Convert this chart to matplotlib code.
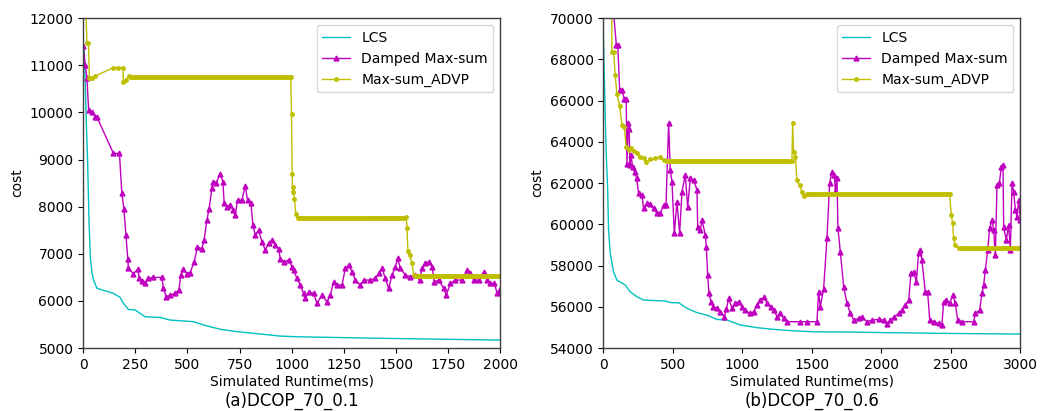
import numpy as np
import matplotlib
matplotlib.use("Agg")
import matplotlib.pyplot as plt

# ===========================================================================
# data
# ===========================================================================

# (a) DCOP_70_0.1
lcs_a_x = [0, 5, 10, 15, 21, 28, 34, 42, 50, 66, 145, 177, 193, 217, 249, 297, 369, 417,
           530, 577, 657, 737, 849, 945, 1033, 1473, 2000]
lcs_a_y = [11500, 11350, 10600, 9800, 8990, 7700, 6940, 6600, 6440, 6270, 6160, 6075, 5950,
           5820, 5810, 5665, 5650, 5595, 5560, 5490, 5400, 5350, 5300, 5255, 5240, 5205, 5170]

dm_a_x = [0, 10, 18, 26, 42, 58, 66, 145, 174, 185, 195, 205, 214, 217, 241, 261, 270, 281,
          297, 313, 337, 377, 385, 398, 417, 441, 459, 468, 481, 497, 513, 532, 548, 569,
          580, 593, 604, 617, 622, 638, 657, 670, 676, 689, 705, 718, 729, 740, 761, 777,
          788, 804, 814, 825, 841, 857, 873, 889, 905, 921, 937, 945, 964, 985, 1001, 1009,
          1025, 1041, 1057, 1065, 1081, 1105, 1121, 1145, 1169, 1185, 1201, 1217, 1241,
          1257, 1273, 1289, 1305, 1329, 1345, 1377, 1401, 1417, 1433, 1449, 1465, 1481,
          1497, 1508, 1521, 1545, 1569, 1593, 1613, 1625, 1641, 1657, 1673, 1684, 1705,
          1729, 1741, 1761, 1785, 1817, 1841, 1857, 1873, 1897, 1921, 1937, 1953, 1972,
          1985, 1993, 2000]
dm_a_y = [11400, 11000, 10735, 10050, 10010, 9910, 9900, 9130, 9130, 8300, 7960, 7400, 6880,
          6690, 6580, 6670, 6480, 6430, 6390, 6480, 6500, 6500, 6270, 6090, 6120, 6170, 6230,
          6550, 6670, 6580, 6600, 6830, 7140, 7110, 7300, 7710, 7960, 8390, 8530, 8510, 8700,
          8530, 8070, 8000, 8030, 7930, 7820, 8140, 8140, 8440, 8140, 8070, 7610, 7400, 7500,
          7260, 7080, 7220, 7290, 7190, 7110, 6900, 6830, 6870, 6730, 6655, 6478, 6337, 6160,
          6054, 6195, 6160, 5948, 6125, 5983, 6125, 6408, 6337, 6337, 6690, 6761, 6620, 6443,
          6337, 6443, 6443, 6478, 6584, 6690, 6478, 6266, 6549, 6726, 6902, 6690, 6549, 6514,
          6549, 6443, 6690, 6797, 6832, 6726, 6408, 6443, 6266, 6125, 6372, 6443, 6443, 6655,
          6584, 6443, 6443, 6620, 6443, 6372, 6372, 6160, 6195, 6250]

advp_a_x = [0, 18, 25, 30, 42, 58, 145, 169, 190, 193, 206, 218, 250, 995, 999, 1002, 1005,
            1008, 1013, 1020, 1028, 1040, 1549, 1553, 1557, 1565, 1577, 1585, 1600, 2000]
advp_a_y = [14000, 11480, 11480, 10720, 10720, 10770, 10950, 10950, 10950, 10650, 10690,
            10770, 10760, 10760, 9960, 8690, 8320, 8420, 8160, 7840, 7750, 7750, 7780, 7540,
            7060, 6970, 6800, 6550, 6540, 6540]
# plateaus where the ADVP samples pile up into a thick band
advp_a_flat_from = [218, 1028, 1585]
advp_a_flat_to = [995, 1549, 2000]
advp_a_flat_level = [10760, 7755, 6540]

# (b) DCOP_70_0.6
lcs_b_x = [0, 8, 15, 22, 31, 38, 50, 74, 98, 158, 194, 242, 290, 446, 494, 542, 602, 674,
           746, 818, 890, 986, 1106, 1225, 1369, 1513, 1777, 2041, 2520, 3000]
lcs_b_y = [69500, 67000, 65000, 63300, 61800, 59720, 58590, 57700, 57300, 57060, 56730,
           56490, 56330, 56280, 56200, 56200, 55930, 55720, 55600, 55390, 55360, 55120,
           54990, 54910, 54840, 54790, 54780, 54750, 54710, 54680]

dm_b_x = [0, 94, 104, 118, 134, 151, 165, 170, 180, 186, 192, 199, 211, 225, 240, 254, 278,
          290, 314, 338, 362, 386, 410, 434, 451, 470, 482, 494, 511, 530, 549, 566, 590,
          607, 626, 650, 674, 679, 698, 710, 734, 741, 751, 760, 775, 792, 816, 842, 871,
          885, 902, 926, 950, 974, 998, 1022, 1053, 1082, 1106, 1129, 1158, 1177, 1206,
          1230, 1249, 1273, 1297, 1321, 1417, 1465, 1537, 1549, 1561, 1585, 1609, 1628,
          1645, 1662, 1669, 1681, 1688, 1705, 1729, 1753, 1777, 1801, 1837, 1861, 1897,
          1933, 1981, 2017, 2041, 2065, 2093, 2125, 2149, 2173, 2197, 2213, 2232, 2252,
          2268, 2280, 2292, 2316, 2333, 2348, 2376, 2412, 2436, 2448, 2467, 2491, 2515,
          2532, 2549, 2580, 2664, 2676, 2707, 2724, 2736, 2748, 2765, 2779, 2796, 2808,
          2820, 2832, 2849, 2863, 2875, 2880, 2899, 2916, 2928, 2940, 2952, 2964, 2976,
          2988, 3000]
dm_b_y = [76000, 68690, 68690, 66510, 66510, 66100, 66100, 62950, 64890, 64600, 62900, 63360,
          62790, 62550, 62230, 61500, 61420, 60770, 61015, 60970, 60770, 60530, 60530, 60930,
          60930, 64890, 62630, 62070, 59560, 61100, 59560, 61580, 62390, 60850, 62230, 62150,
          61660, 59880, 59720, 60210, 59480, 58910, 57540, 56650, 56250, 56000, 55930, 55760,
          55520, 55880, 56410, 55930, 56170, 56250, 56000, 55840, 55680, 55760, 56090, 56330,
          56490, 56170, 56000, 55840, 55520, 55680, 55440, 55280, 55280, 55280, 55280, 56730,
          56000, 56890, 59320, 61990, 62550, 62390, 61580, 62230, 59800, 58670, 56980, 56170,
          55680, 55360, 55440, 55520, 55280, 55360, 55390, 55360, 55170, 55360, 55520, 55680,
          55840, 56090, 56330, 57620, 57700, 57220, 58590, 58750, 58270, 56730, 56730, 55360,
          55280, 55200, 55120, 56250, 56330, 56170, 56570, 56170, 55360, 55280, 55280, 55680,
          55840, 56650, 57060, 57780, 58750, 59800, 60210, 59720, 58510, 61900, 61990, 62790,
          62870, 59880, 59240, 59970, 58750, 61990, 61580, 60690, 60370, 61180, 60210]

advp_b_x = [60, 62, 74, 86, 98, 118, 134, 151, 165, 182, 199, 218, 242, 266, 290, 307, 338,
            374, 405, 434, 458, 1357, 1362, 1369, 1381, 1393, 1412, 1429, 1446, 1465, 2491,
            2503, 2513, 2520, 2532, 2556, 3000]
advp_b_y = [74000, 68340, 68370, 67240, 66300, 65750, 64810, 64730, 63760, 63600, 63680,
            63550, 63440, 63280, 63200, 63035, 63150, 63200, 63245, 63120, 63080, 63080,
            64890, 63520, 63280, 62150, 61900, 61580, 61370, 61480, 61470, 60450, 60050,
            59320, 59000, 58830, 58830]
advp_b_flat_from = [458, 1465, 2556]
advp_b_flat_to = [1357, 2491, 3000]
advp_b_flat_level = [63080, 61480, 58830]

panels = [
    dict(lcs=(lcs_a_x, lcs_a_y), dm=(dm_a_x, dm_a_y), advp=(advp_a_x, advp_a_y),
         flat=(advp_a_flat_from, advp_a_flat_to, advp_a_flat_level),
         xlim=(0, 2000), ylim=(5000, 12000), xticks=np.arange(0, 2001, 250),
         yticks=np.arange(5000, 12001, 1000), name="(a)DCOP_70_0.1"),
    dict(lcs=(lcs_b_x, lcs_b_y), dm=(dm_b_x, dm_b_y), advp=(advp_b_x, advp_b_y),
         flat=(advp_b_flat_from, advp_b_flat_to, advp_b_flat_level),
         xlim=(0, 3000), ylim=(54000, 70000), xticks=np.arange(0, 3001, 500),
         yticks=np.arange(54000, 70001, 2000), name="(b)DCOP_70_0.6"),
]

# ===========================================================================
# drawing
# ===========================================================================

fig, axes = plt.subplots(1, 2, figsize=(10.53, 4.11), dpi=100)
fig.subplots_adjust(left=0.079, right=0.969, bottom=0.153, top=0.956, wspace=0.247)

for ax, p in zip(axes, panels):
    ax.plot(*p["lcs"], color="c", lw=1.0, label="LCS")
    ax.plot(*p["dm"], color="m", lw=1.0, marker="^", ms=3.5, label="Damped Max-sum")
    ax.plot(*p["advp"], color="y", lw=1.0, marker=".", ms=5, label="Max-sum_ADVP")
    ax.hlines(p["flat"][2], p["flat"][0], p["flat"][1], color="y", lw=3.5)

    ax.set_xlim(*p["xlim"])
    ax.set_ylim(*p["ylim"])
    ax.set_xticks(p["xticks"])
    ax.set_yticks(p["yticks"])
    ax.tick_params(labelsize=10)
    for s in ax.spines.values():
        s.set_color("#404040")
        s.set_linewidth(1.0)
    ax.set_xlabel("Simulated Runtime(ms)", fontsize=10, labelpad=2)
    ax.set_ylabel("cost", fontsize=10)
    ax.text(0.5, -0.161, p["name"], transform=ax.transAxes, ha="center", va="center",
            fontsize=12)
    ax.legend(loc="upper right", fontsize=10)

fig.savefig("out.png", dpi=100)
